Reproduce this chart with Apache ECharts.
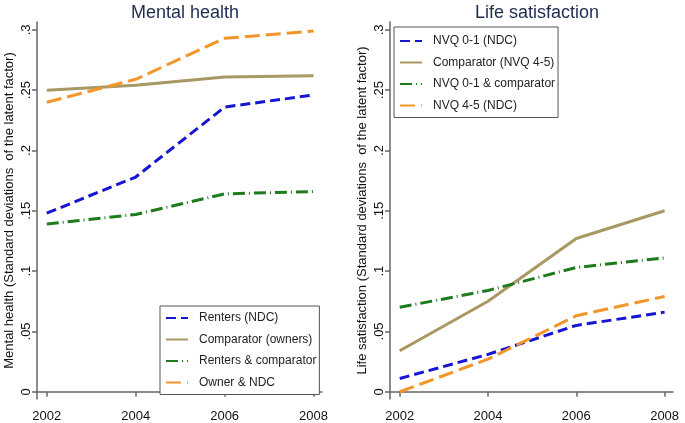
<!DOCTYPE html>
<html>
<head>
<meta charset="utf-8">
<script src="https://cdn.jsdelivr.net/npm/echarts@6/dist/echarts.min.js"></script>
<style>
html,body{margin:0;padding:0;background:#fff;}
#chart{width:685px;height:423px;}
</style>
</head>
<body>
<div id="chart"></div>
<script>
var years = [2002, 2004, 2006, 2008];
var yTicks = [0, 0.05, 0.1, 0.15, 0.2, 0.25, 0.3];

// Mental health
var mhRenters = [0.148, 0.178, 0.236, 0.246];
var mhComparator = [0.250, 0.254, 0.261, 0.262];
var mhRentersComp = [0.139, 0.147, 0.164, 0.166];
var mhOwnerNDC = [0.240, 0.259, 0.293, 0.299];

// Life satisfaction
var lsNvq01 = [0.011, 0.031, 0.055, 0.066];
var lsComparator = [0.034, 0.075, 0.127, 0.150];
var lsNvq01Comp = [0.070, 0.084, 0.103, 0.111];
var lsNvq45 = [0.000, 0.027, 0.063, 0.079];

var mhNames = ['Renters (NDC)', 'Comparator (owners)', 'Renters & comparator', 'Owner & NDC'];
var lsNames = ['NVQ 0-1 (NDC)', 'Comparator (NVQ 4-5)', 'NVQ 0-1 & comparator', 'NVQ 4-5 (NDC)'];

var colors = ['#1515d2', '#a89862', '#1c7c1c', '#f4952a'];
var dashes = [[10, 5], 'solid', [12, 4, 1, 4], [15, 6]];

function pairs(vals) { return years.map(function (y, i) { return [y, vals[i]]; }); }

var FONT = "'Liberation Sans', Arial, sans-serif";
var axisColor = '#666';

function fmtY(v) {
  if (Math.abs(v) < 1e-9) return '0';
  return String(+v.toFixed(2)).replace(/^0/, '');
}

function xAxis(idx) {
  return {
    type: 'value', gridIndex: idx, min: 2001.78, max: 2008.19,
    axisLine: { show: true, lineStyle: { color: axisColor, width: 1.5 } },
    axisTick: { show: true, length: 5, customValues: years, lineStyle: { color: axisColor, width: 1.5 } },
    axisLabel: { customValues: years, color: '#111', fontSize: 13, fontFamily: FONT, margin: 11, formatter: function (v) { return String(v); } },
    splitLine: { show: false }
  };
}
function yAxis(idx, name) {
  return {
    type: 'value', gridIndex: idx, min: -0.006, max: 0.3065,
    name: name, nameLocation: 'middle', nameGap: 21.5, nameRotate: 90, nameMoveOverlap: false,
    nameTextStyle: { color: '#111', fontSize: 13, fontFamily: FONT },
    axisLine: { show: true, lineStyle: { color: axisColor, width: 1.5 } },
    axisTick: { show: true, length: 5, customValues: yTicks, lineStyle: { color: axisColor, width: 1.5 } },
    axisLabel: { customValues: yTicks, rotate: 90, color: '#111', fontSize: 13, fontFamily: FONT, margin: 4, formatter: fmtY },
    splitLine: { show: false }
  };
}

var series = [];
[[mhRenters, mhComparator, mhRentersComp, mhOwnerNDC], [lsNvq01, lsComparator, lsNvq01Comp, lsNvq45]].forEach(function (grp, g) {
  var names = g === 0 ? mhNames : lsNames;
  grp.forEach(function (vals, i) {
    series.push({
      name: names[i], type: 'line', xAxisIndex: g, yAxisIndex: g,
      data: pairs(vals), symbol: 'none', smooth: false, animation: false,
      lineStyle: { color: colors[i], width: 3, type: dashes[i] },
      itemStyle: { color: colors[i] },
      z: i === 1 ? 2 : 3
    });
  });
});

function legend(names, left, top, padTop) {
  return {
    data: names, orient: 'vertical', left: left, top: top,
    padding: [padTop, 3, 5, 5], itemWidth: 22, itemHeight: 10, itemGap: 7.5,
    borderColor: '#555', borderWidth: 1, backgroundColor: '#fff',
    selectedMode: false,
    itemStyle: { opacity: 0, borderWidth: 0 },
    textStyle: { color: '#222', fontSize: 12, fontFamily: FONT, lineHeight: 14, padding: [0, 0, 0, 6] }
  };
}

var chart = echarts.init(document.getElementById('chart'), null, { renderer: 'canvas' });
chart.setOption({
  animation: false,
  backgroundColor: '#fff',
  title: [
    { text: 'Mental health', left: 180, top: -1, textAlign: 'center', textStyle: { color: '#1f2c4f', fontSize: 18, fontWeight: 'normal', fontFamily: FONT } },
    { text: 'Life satisfaction', left: 532, top: -1, textAlign: 'center', textStyle: { color: '#1f2c4f', fontSize: 18, fontWeight: 'normal', fontFamily: FONT } }
  ],
  grid: [
    { left: 37, top: 22, width: 285, height: 377, outerBoundsMode: 'none' },
    { left: 390, top: 22, width: 283, height: 377, outerBoundsMode: 'none' }
  ],
  xAxis: [xAxis(0), xAxis(1)],
  yAxis: [yAxis(0, 'Mental health (Standard deviations  of the latent factor)'), yAxis(1, 'Life satisfaction (Standard deviations  of the latent factor)')],
  legend: [legend(mhNames, 160, 306, 5), legend(lsNames, 394, 27, 7)],
  series: series
});
</script>
</body>
</html>
